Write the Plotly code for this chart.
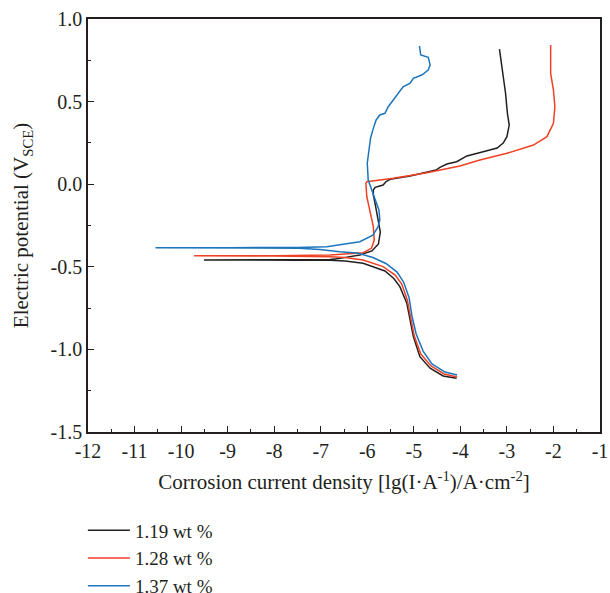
import plotly.graph_objects as go

# Potentiodynamic polarization curves: log current density vs. potential (V vs SCE)
series_names = ["1.19 wt %", "1.28 wt %", "1.37 wt %"]
series_colors = ["#231F20", "#EF4123", "#1C75BC"]

# 1.19 wt % : cathodic branch -> corrosion potential -> anodic branch
lg_i_119 = [-4.08, -4.37, -4.65, -4.87, -5.01, -5.08, -5.15, -5.30, -5.43, -5.62,
            -5.90, -6.09, -6.48, -6.80, -7.50, -8.50, -9.51, -8.50, -7.50, -6.80,
            -6.59, -6.16, -5.90, -5.76, -5.72, -5.77, -5.83, -5.87, -5.87, -5.83,
            -5.66, -5.60, -5.51, -5.08, -4.65, -4.52, -4.44, -4.29, -4.08, -3.86,
            -3.51, -3.21, -3.08, -3.00, -2.95, -2.99, -3.03, -3.11, -3.15, -3.16]
e_119 = [-1.175, -1.161, -1.114, -1.044, -0.923, -0.822, -0.721, -0.620, -0.571, -0.525,
         -0.495, -0.479, -0.465, -0.461, -0.460, -0.460, -0.459, -0.459, -0.458, -0.456,
         -0.449, -0.429, -0.404, -0.362, -0.289, -0.199, -0.120, -0.065, -0.035, -0.019,
         -0.005, 0.015, 0.030, 0.050, 0.076, 0.086, 0.102, 0.122, 0.136, 0.171,
         0.197, 0.219, 0.249, 0.288, 0.358, 0.431, 0.552, 0.709, 0.782, 0.818]

# 1.28 wt %
lg_i_128 = [-4.07, -4.35, -4.63, -4.85, -4.99, -5.06, -5.14, -5.26, -5.40, -5.66,
            -6.09, -6.48, -6.80, -8.00, -9.72, -8.00, -6.80, -6.09, -5.91, -5.85,
            -5.87, -5.94, -6.01, -6.03, -6.01, -5.44, -4.72, -4.01, -3.58, -3.00,
            -2.43, -2.14, -2.00, -1.97, -2.00, -2.06, -2.06]
e_128 = [-1.167, -1.149, -1.100, -1.028, -0.919, -0.810, -0.701, -0.604, -0.550, -0.499,
         -0.459, -0.444, -0.439, -0.435, -0.433, -0.433, -0.429, -0.415, -0.388, -0.338,
         -0.257, -0.176, -0.076, 0.005, 0.015, 0.036, 0.070, 0.110, 0.146, 0.187,
         0.237, 0.288, 0.369, 0.469, 0.570, 0.671, 0.843]

# 1.37 wt %
lg_i_137 = [-4.07, -4.33, -4.61, -4.80, -4.95, -5.04, -5.10, -5.22, -5.36, -5.60,
            -5.88, -6.22, -6.59, -7.02, -7.45, -9.00, -10.55, -9.00, -7.50, -6.87,
            -6.16, -5.88, -5.77, -5.73, -5.75, -5.88, -5.98, -6.00, -5.96, -5.93,
            -5.87, -5.81, -5.73, -5.62, -5.55, -5.44, -5.33, -5.23, -5.08, -5.01,
            -4.83, -4.69, -4.65, -4.69, -4.85, -4.88]
e_137 = [-1.155, -1.137, -1.088, -1.010, -0.907, -0.798, -0.689, -0.592, -0.532, -0.480,
         -0.444, -0.416, -0.409, -0.395, -0.388, -0.385, -0.384, -0.384, -0.383, -0.378,
         -0.348, -0.308, -0.259, -0.217, -0.156, -0.053, 0.025, 0.127, 0.227, 0.278,
         0.338, 0.389, 0.419, 0.429, 0.469, 0.510, 0.550, 0.590, 0.611, 0.641,
         0.661, 0.691, 0.722, 0.768, 0.782, 0.837]

x_tick_vals = list(range(-12, 0))
x_tick_text = ["-12", "-11", "-10", "-9", "-8", "-7", "-6", "-5", "-4", "-3", "-2", "-1"]
y_tick_vals = [-1.5, -1.0, -0.5, 0.0, 0.5, 1.0]
y_tick_text = ["-1.5", "-1.0", "-0.5", "0.0", "0.5", "1.0"]

FONT = "Liberation Serif"
TEXT_COLOR = "#231F20"

fig = go.Figure()
for name, color, xs, ys in zip(series_names, series_colors,
                               [lg_i_119, lg_i_128, lg_i_137],
                               [e_119, e_128, e_137]):
    fig.add_trace(go.Scatter(x=xs, y=ys, mode="lines", name=name,
                             line=dict(color=color, width=1.5),
                             legendgroup=name))

axis_common = dict(
    showline=True, linecolor=TEXT_COLOR, linewidth=1.5, mirror=True,
    showgrid=False, zeroline=False, automargin=False,
    ticks="inside", ticklen=6, tickwidth=1.2, tickcolor=TEXT_COLOR,
    tickfont=dict(family=FONT, size=20, color=TEXT_COLOR),
)

fig.update_xaxes(
    range=[-12, -1], tickmode="array", tickvals=x_tick_vals, ticktext=x_tick_text,
    minor=dict(tickmode="linear", tick0=-12, dtick=0.5, ticks="inside",
               ticklen=3, tickwidth=1.2, tickcolor=TEXT_COLOR),
    title=dict(text="Corrosion current density [lg(I·A<sup>-1</sup>)/A·cm<sup>-2</sup>]",
               font=dict(family=FONT, size=21, color=TEXT_COLOR), standoff=14),
    **axis_common,
)
fig.update_yaxes(
    range=[-1.5, 1.0], tickmode="array", tickvals=y_tick_vals, ticktext=y_tick_text,
    minor=dict(tickmode="linear", tick0=-1.5, dtick=0.25, ticks="inside",
               ticklen=3, tickwidth=1.2, tickcolor=TEXT_COLOR),
    title=dict(text="Electric potential (V<sub>SCE</sub>)",
               font=dict(family=FONT, size=21, color=TEXT_COLOR), standoff=16),
    **axis_common,
)

fig.update_layout(
    width=610, height=593,
    margin=dict(l=88, r=10, t=19, b=161, autoexpand=False),
    paper_bgcolor="white", plot_bgcolor="white",
    font=dict(family=FONT, size=20, color=TEXT_COLOR),
    showlegend=True,
    legend=dict(x=-0.01, xanchor="left", y=-0.1925, yanchor="top",
                font=dict(family=FONT, size=19, color=TEXT_COLOR),
                itemwidth=42, tracegroupgap=0, bgcolor="rgba(0,0,0,0)"),
)

fig.write_html("out.html")
